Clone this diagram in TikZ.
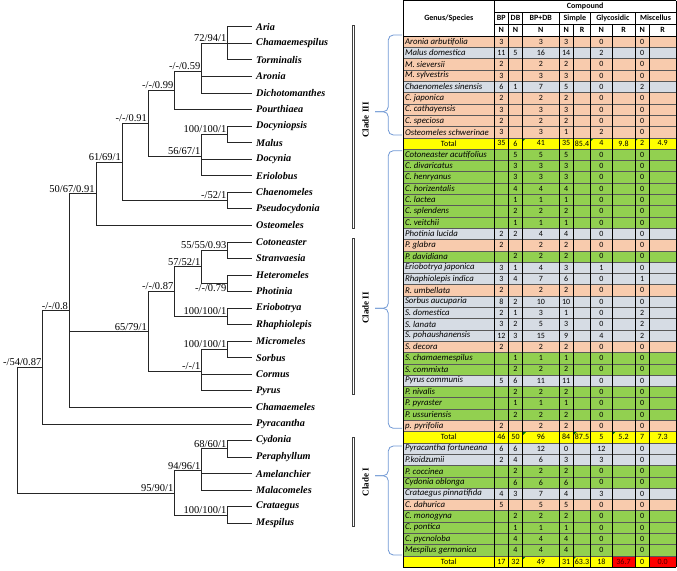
\documentclass[tikz,border=0pt]{standalone}
\usepackage{fontspec}
\setmainfont{Liberation Serif}
\newfontfamily\tabfont{Carlito}
\usepackage{xcolor}
\usepackage{tikz}

\definecolor{rowP}{RGB}{248,203,173}
\definecolor{rowB}{RGB}{214,220,228}
\definecolor{rowG}{RGB}{146,208,80}
\definecolor{rowT}{RGB}{255,255,0}
\definecolor{cellred}{RGB}{255,0,0}
\definecolor{braceblue}{RGB}{112,152,212}

\begin{document}
\begin{tikzpicture}[x=1pt,y=-1pt,
  branch/.style={draw=black!85,line width=0.65pt},
  leaf/.style={anchor=west,inner xsep=4pt,inner ysep=1pt,font=\fontsize{10.2}{12}\selectfont\bfseries\itshape},
  support/.style={inner sep=1.2pt,font=\fontsize{10.5}{12}\selectfont},
  clade/.style={rotate=90,font=\fontsize{9}{10}\selectfont\bfseries},
  cladebar/.style={draw=black!75,line width=0.5pt},
  cladebrace/.style={draw=braceblue,line width=0.8pt,rounded corners=5pt},
  cell/.style={inner sep=0pt,font=\tabfont\fontsize{8}{9}\selectfont},
  species/.style={cell,anchor=west,font=\tabfont\itshape\fontsize{8.8}{9}\selectfont},
  head/.style={inner sep=0pt,font=\tabfont\bfseries\fontsize{8}{9}\selectfont},
  tabline/.style={draw=black,line width=0.6pt},
  rowline/.style={draw=black!65,line width=0.35pt},
  errflag/.style={fill=green!50!black}]
  \useasboundingbox (0,0) rectangle (677,570);

  % leaves of the tree
  \foreach \g [count=\i from 0] in {Aria,Chamaemespilus,Torminalis,Aronia,Dichotomanthes,
    Pourthiaea,Docyniopsis,Malus,Docynia,Eriolobus,Chaenomeles,Pseudocydonia,Osteomeles,
    Cotoneaster,Stranvaesia,Heteromeles,Photinia,Eriobotrya,Rhaphiolepis,Micromeles,
    Sorbus,Cormus,Pyrus,Chamaemeles,Pyracantha,Cydonia,Peraphyllum,Amelanchier,
    Malacomeles,Crataegus,Mespilus} {
    \node[leaf] (\g) at (252,{26.7+16.55*\i}) {\g};
  }

  % inner nodes
  \coordinate (n1) at (227.7,43.25);
  \coordinate (n2) at (201.7,70.83);
  \coordinate (n3) at (174.7,90.14);
  \coordinate (n6) at (227.7,134.28);
  \coordinate (n7) at (201.7,156.34);
  \coordinate (n4) at (148.3,123.24);
  \coordinate (n8) at (227.7,200.48);
  \coordinate (n9) at (122.3,161.86);
  \coordinate (n10) at (96,193.58);
  \coordinate (n11) at (227.7,250.13);
  \coordinate (n12) at (227.7,283.23);
  \coordinate (n13) at (201.7,266.68);
  \coordinate (n14) at (227.7,316.33);
  \coordinate (n15) at (174.7,291.5);
  \coordinate (n16) at (227.7,349.43);
  \coordinate (n17) at (201.7,371.49);
  \coordinate (n18) at (148.3,331.5);
  \coordinate (n19) at (69.3,310.81);
  \coordinate (n20) at (42.7,367.36);
  \coordinate (n21) at (227.7,448.73);
  \coordinate (n22) at (201.7,470.79);
  \coordinate (n23) at (227.7,514.93);
  \coordinate (n24) at (174.7,492.86);
  \coordinate (root) at (17.3,430.11);

  \foreach \p/\c in {n1/Aria,n1/Chamaemespilus,n1/Torminalis,n2/n1,n2/Aronia,
    n2/Dichotomanthes,n3/n2,n3/Pourthiaea,n6/Docyniopsis,n6/Malus,n7/n6,n7/Docynia,
    n7/Eriolobus,n4/n3,n4/n7,n8/Chaenomeles,n8/Pseudocydonia,n9/n4,n9/n8,n10/n9,
    n10/Osteomeles,n11/Cotoneaster,n11/Stranvaesia,n12/Heteromeles,n12/Photinia,
    n13/n11,n13/n12,n14/Eriobotrya,n14/Rhaphiolepis,n15/n13,n15/n14,n16/Micromeles,
    n16/Sorbus,n17/n16,n17/Cormus,n17/Pyrus,n18/n15,n18/n17,n19/n10,n19/n18,
    n19/Chamaemeles,n20/n19,n20/Pyracantha,n21/Cydonia,n21/Peraphyllum,n22/n21,
    n22/Amelanchier,n22/Malacomeles,n23/Crataegus,n23/Mespilus,n24/n22,n24/n23,
    root/n20,root/n24} {
    \draw[branch] (\p) |- (\c);
  }

  % support values
  \node[support,above left] (s1) at (n1) {72/94/1};
  \node[support,above left] (s2) at (n2) {-/-/0.59};
  \node[support,above left] (s3) at (n3) {-/-/0.99};
  \node[support,above left] (s4) at (n4) {-/-/0.91};
  \node[support,above left] (s6) at (n6) {100/100/1};
  \node[support,above left] (s7) at (n7) {56/67/1};
  \node[support,above left] (s8) at (n8) {-/52/1};
  \node[support,above left] (s9) at (n9) {61/69/1};
  \node[support,above left] (s10) at (n10) {50/67/0.91};
  \node[support,above left] (s11) at (n11) {55/55/0.93};
  \node[support,below left] (s12) at (n12) {-/-/0.79};
  \node[support,above left] (s13) at (n13) {57/52/1};
  \node[support,above left] (s14) at (n14) {100/100/1};
  \node[support,above left] (s15) at (n15) {-/-/0.87};
  \node[support,above left] (s16) at (n16) {100/100/1};
  \node[support,above left] (s17) at (n17) {-/-/1};
  \node[support,above left] (s18) at (n18) {65/79/1};
  \node[support,above left] (s19) at (n19) {-/-/0.8};
  \node[support,above left] (s20) at (n20) {-/54/0.87};
  \node[support,above left] (s21) at (n21) {68/60/1};
  \node[support,above left] (s22) at (n22) {94/96/1};
  \node[support,above left] (s23) at (n23) {100/100/1};
  \node[support,above left] (s24) at (n24) {95/90/1};

  % clade bars
  \foreach \t/\b in {25/228.3,238/394,437/526.7} {
    \draw[cladebar] (351.8,\t) rectangle (354.6,\b);
  }
  \node[clade] (cladeIII) at (365.5,120) {Clade III};
  \node[clade] (cladeII) at (365.5,308) {Clade II};
  \node[clade] (cladeI) at (365.5,482) {Clade I};

  % braces in front of the table
  \foreach \t/\m/\b in {35/111.7/135,150.7/308.3/428.3,446/475.7/555} {
    \draw[cladebrace] (402,\t) -- (388.3,\t) -- (388.3,\m) -- (375,\m);
    \draw[cladebrace] (402,\b) -- (388.3,\b) -- (388.3,\m) -- (375,\m);
  }

  % table rows
  \foreach \sp/\rc/\bp/\db/\bd/\sn/\sr/\gn/\gr/\mn/\mr [count=\r from 0] in {
    Aronia arbutifolia/rowP/3/{}/3/3/{}/0/{}/0/{},
    Malus domestica/rowB/11/5/16/14/{}/2/{}/0/{},
    M. sieversii/rowP/2/{}/2/2/{}/0/{}/0/{},
    M. sylvestris/rowP/3/{}/3/3/{}/0/{}/0/{},
    Chaenomeles sinensis/rowB/6/1/7/5/{}/0/{}/2/{},
    C. japonica/rowP/2/{}/2/2/{}/0/{}/0/{},
    C. cathayensis/rowP/3/{}/3/3/{}/0/{}/0/{},
    C. speciosa/rowP/2/{}/2/2/{}/0/{}/0/{},
    Osteomeles schwerinae/rowP/3/{}/3/1/{}/2/{}/0/{},
    {}/rowT/35/6/41/35/85.4/4/9.8/2/4.9,
    Cotoneaster acutifolius/rowG/{}/5/5/5/{}/0/{}/0/{},
    C. divaricatus/rowG/{}/3/3/3/{}/0/{}/0/{},
    C. henryanus/rowG/{}/3/3/3/{}/0/{}/0/{},
    C. horizentalis/rowG/{}/4/4/4/{}/0/{}/0/{},
    C. lactea/rowG/{}/1/1/1/{}/0/{}/0/{},
    C. splendens/rowG/{}/2/2/2/{}/0/{}/0/{},
    C. veitchii/rowG/{}/1/1/1/{}/0/{}/0/{},
    Photinia lucida/rowB/2/2/4/4/{}/0/{}/0/{},
    P. glabra/rowP/2/{}/2/2/{}/0/{}/0/{},
    P. davidiana/rowG/{}/2/2/2/{}/0/{}/0/{},
    Eriobotrya japonica/rowB/3/1/4/3/{}/1/{}/0/{},
    Rhaphiolepis indica/rowB/3/4/7/6/{}/0/{}/1/{},
    R. umbellata/rowP/2/{}/2/2/{}/0/{}/0/{},
    Sorbus aucuparia/rowB/8/2/10/10/{}/0/{}/0/{},
    S. domestica/rowB/2/1/3/1/{}/0/{}/2/{},
    S. lanata/rowB/3/2/5/3/{}/0/{}/2/{},
    S. pohaushanensis/rowB/12/3/15/9/{}/4/{}/2/{},
    S. decora/rowP/2/{}/2/2/{}/0/{}/0/{},
    S. chamaemespilus/rowG/{}/1/1/1/{}/0/{}/0/{},
    S. commixta/rowG/{}/2/2/2/{}/0/{}/0/{},
    Pyrus communis/rowB/5/6/11/11/{}/0/{}/0/{},
    P. nivalis/rowG/{}/2/2/2/{}/0/{}/0/{},
    P. pyraster/rowG/{}/1/1/1/{}/0/{}/0/{},
    P. ussuriensis/rowG/{}/2/2/2/{}/0/{}/0/{},
    p. pyrifolia/rowP/2/{}/2/2/{}/0/{}/0/{},
    {}/rowT/46/50/96/84/87.5/5/5.2/7/7.3,
    Pyracantha fortuneana/rowB/6/6/12/0/{}/12/{}/0/{},
    P.koidzumii/rowB/2/4/6/3/{}/3/{}/0/{},
    P. coccinea/rowG/{}/2/2/2/{}/0/{}/0/{},
    Cydonia oblonga/rowG/{}/6/6/6/{}/0/{}/0/{},
    Crataegus pinnatifida/rowB/4/3/7/4/{}/3/{}/0/{},
    C. dahurica/rowP/5/{}/5/5/{}/0/{}/0/{},
    C. monogyna/rowG/{}/2/2/2/{}/0/{}/0/{},
    C. pontica/rowG/{}/1/1/1/{}/0/{}/0/{},
    C. pycnoloba/rowG/{}/4/4/4/{}/0/{}/0/{},
    Mespilus germanica/rowG/{}/4/4/4/{}/0/{}/0/{},
    {}/rowT/17/32/49/31/63.3/18/{}/0/{}} {
    \fill[\rc] (403.3,{36+11.3*\r}) rectangle (676,{47.3+11.3*\r});
    \node[species] (sp\r) at (404.8,{41.65+11.3*\r}) {\sp};
    \foreach \v/\cx [count=\j] in {\bp/501.3,\db/515.5,\bd/540.85,\sn/566.15,\sr/582,
      \gn/601.35,\gr/623.5,\mn/642.15,\mr/662.65} {
      \node[cell] (v\r-\j) at (\cx,{41.65+11.3*\r}) {\v};
    }
  }
  \foreach \r [count=\k] in {9,35,46} {
    \node[cell] (total\k) at (448.8,{41.65+11.3*\r}) {Total};
  }
  \fill[cellred] (612,{36+11.3*46}) rectangle (635,{47.3+11.3*46});
  \fill[cellred] (649.3,{36+11.3*46}) rectangle (676,{47.3+11.3*46});
  \node[cell,text=red!30!black] (glyR) at (623.5,{41.65+11.3*46}) {36.7};
  \node[cell,text=red!30!black] (miscR) at (662.65,{41.65+11.3*46}) {0.0};
  \foreach \x/\r in {522.7/9,590.7/9,635/9,522.7/35,573.3/35,612/35,522.7/46,573.3/46} {
    \fill[errflag] ({\x+0.4},{36.4+11.3*\r}) -- ++(3,0) -- ++(-3,3) -- cycle;
  }

  % header
  \node[head] (compound) at (585.2,6.4) {Compound};
  \node[head] (genus) at (448.8,18.3) {Genus/Species};
  \foreach \t/\cx [count=\k] in {BP/501.3,DB/515.5,BP+DB/540.85,Simple/574.85,
    Glycosidic/612.85,Miscellus/655.5} {
    \node[head] (h\k) at (\cx,18.2) {\t};
  }
  \foreach \t/\cx [count=\k] in {N/501.3,N/515.5,N/540.85,N/566.15,R/582,N/601.35,
    R/623.5,N/642.15,R/662.65} {
    \node[head] (nr\k) at (\cx,30.2) {\t};
  }

  % grid
  \foreach \r in {1,...,46} {
    \draw[rowline] (403.3,{36+11.3*\r}) -- (676,{36+11.3*\r});
  }
  \draw[tabline] (403.3,0.7) -- (676,0.7);
  \draw[tabline] (494.3,12) -- (676,12);
  \draw[tabline] (494.3,24) -- (676,24);
  \draw[tabline] (403.3,36) -- (676,36);
  \draw[tabline] (403.3,567.1) -- (676,567.1);
  \foreach \x in {403.3,494.3,676} \draw[tabline] (\x,0.7) -- (\x,567.1);
  \foreach \x in {508.3,522.7,559,590.7,635} \draw[tabline] (\x,12) -- (\x,567.1);
  \foreach \x in {573.3,612,649.3} \draw[tabline] (\x,24) -- (\x,567.1);
\end{tikzpicture}
\end{document}
